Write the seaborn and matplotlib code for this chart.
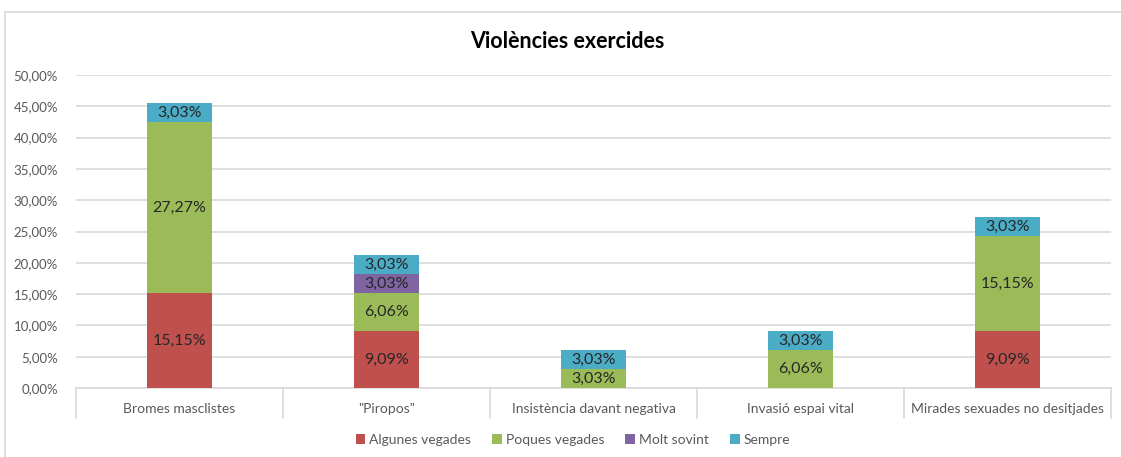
import matplotlib
matplotlib.use("Agg")
import matplotlib.pyplot as plt
import seaborn as sns
import pandas as pd
import numpy as np
from matplotlib.patches import Patch
from matplotlib.lines import Line2D

categories = ["Bromes masclistes", "\"Piropos\"", "Insistència davant negativa",
              "Invasió espai vital", "Mirades sexuades no desitjades"]
series = ["Algunes vegades", "Poques vegades", "Molt sovint", "Sempre"]
algunes = [15.15, 9.09, 0.0, 0.0, 9.09]
poques = [27.27, 6.06, 3.03, 6.06, 15.15]
molt = [0.0, 3.03, 0.0, 0.0, 0.0]
sempre = [3.03, 3.03, 3.03, 3.03, 3.03]
yticks = [0, 5, 10, 15, 20, 25, 30, 35, 40, 45, 50]
title = "Violències exercides"

colors = ["#C0504D", "#9BBB59", "#8064A2", "#4BACC6"]
values = [algunes, poques, molt, sempre]

sns.set_style("white")
plt.rcParams["font.family"] = ["Lato", "DejaVu Sans"]

fig = plt.figure(figsize=(11.21, 4.57), dpi=100)
ax = fig.add_axes([76 / 1121, 1 - 388 / 457, (1111 - 76) / 1121, (388 - 75) / 457])

# figure border (left/top visible)
fig.add_artist(Line2D([5 / 1121, 5 / 1121], [0, 1 - 12 / 457], transform=fig.transFigure,
                      color="#D9D9D9", lw=1.2))
fig.add_artist(Line2D([5 / 1121, 1], [1 - 12 / 457, 1 - 12 / 457], transform=fig.transFigure,
                      color="#D9D9D9", lw=1.2))

cum = np.cumsum(np.array(values), axis=0)
df = pd.DataFrame({"cat": categories})
# draw cumulative totals from top to bottom so lower segments overlay
for i in range(len(series) - 1, -1, -1):
    df["v"] = cum[i]
    sns.barplot(data=df, x="cat", y="v", color=colors[i], saturation=1, width=0.315,
                ax=ax, linewidth=0, zorder=3)

# labels
for i in range(len(series)):
    for j, c in enumerate(categories):
        v = values[i][j]
        if v > 0:
            mid = cum[i][j] - v / 2
            ax.text(j, mid, f"{v:.2f}%".replace(".", ","), ha="center", va="center",
                    fontsize=11.5, color="#262626", zorder=5)

ax.set_ylim(0, 50)
ax.set_xlim(-0.5, len(categories) - 0.5)
ax.set_yticks(yticks)
ax.set_yticklabels([f"{t:.2f}%".replace(".", ",") for t in yticks], color="#595959", fontsize=9.5)
ax.set_xticks(range(len(categories)))
ax.set_xticklabels(categories, color="#595959", fontsize=10)
ax.tick_params(axis="both", length=0)
ax.tick_params(axis="x", pad=11)
ax.tick_params(axis="y", pad=13)
ax.set_xlabel("")
ax.set_ylabel("")
ax.yaxis.grid(True, color="#D9D9D9", lw=1.2, zorder=0)
ax.set_axisbelow(True)
for s in ["top", "right", "left"]:
    ax.spines[s].set_visible(False)
ax.spines["bottom"].set_color("#D9D9D9")
ax.spines["bottom"].set_linewidth(1.2)

# category separators below the axis
for b in np.arange(-0.5, len(categories), 1.0):
    ax.add_line(Line2D([b, b], [0, -30 / 313 * 50], color="#D9D9D9", lw=1.2, clip_on=False))

fig.text(567 / 1121, 1 - 42 / 457, title, ha="center", va="center", fontsize=15.5,
         fontweight="bold", color="#000000")

handles = [Patch(facecolor=c, edgecolor="none") for c in colors]
fig.legend(handles, series, loc="center", bbox_to_anchor=(573 / 1121, 1 - 440 / 457), ncol=4,
           frameon=False, fontsize=10, handlelength=0.7, handleheight=0.7, handletextpad=0.3,
           columnspacing=1.5, labelcolor="#595959")

fig.savefig("out.png", dpi=100)
